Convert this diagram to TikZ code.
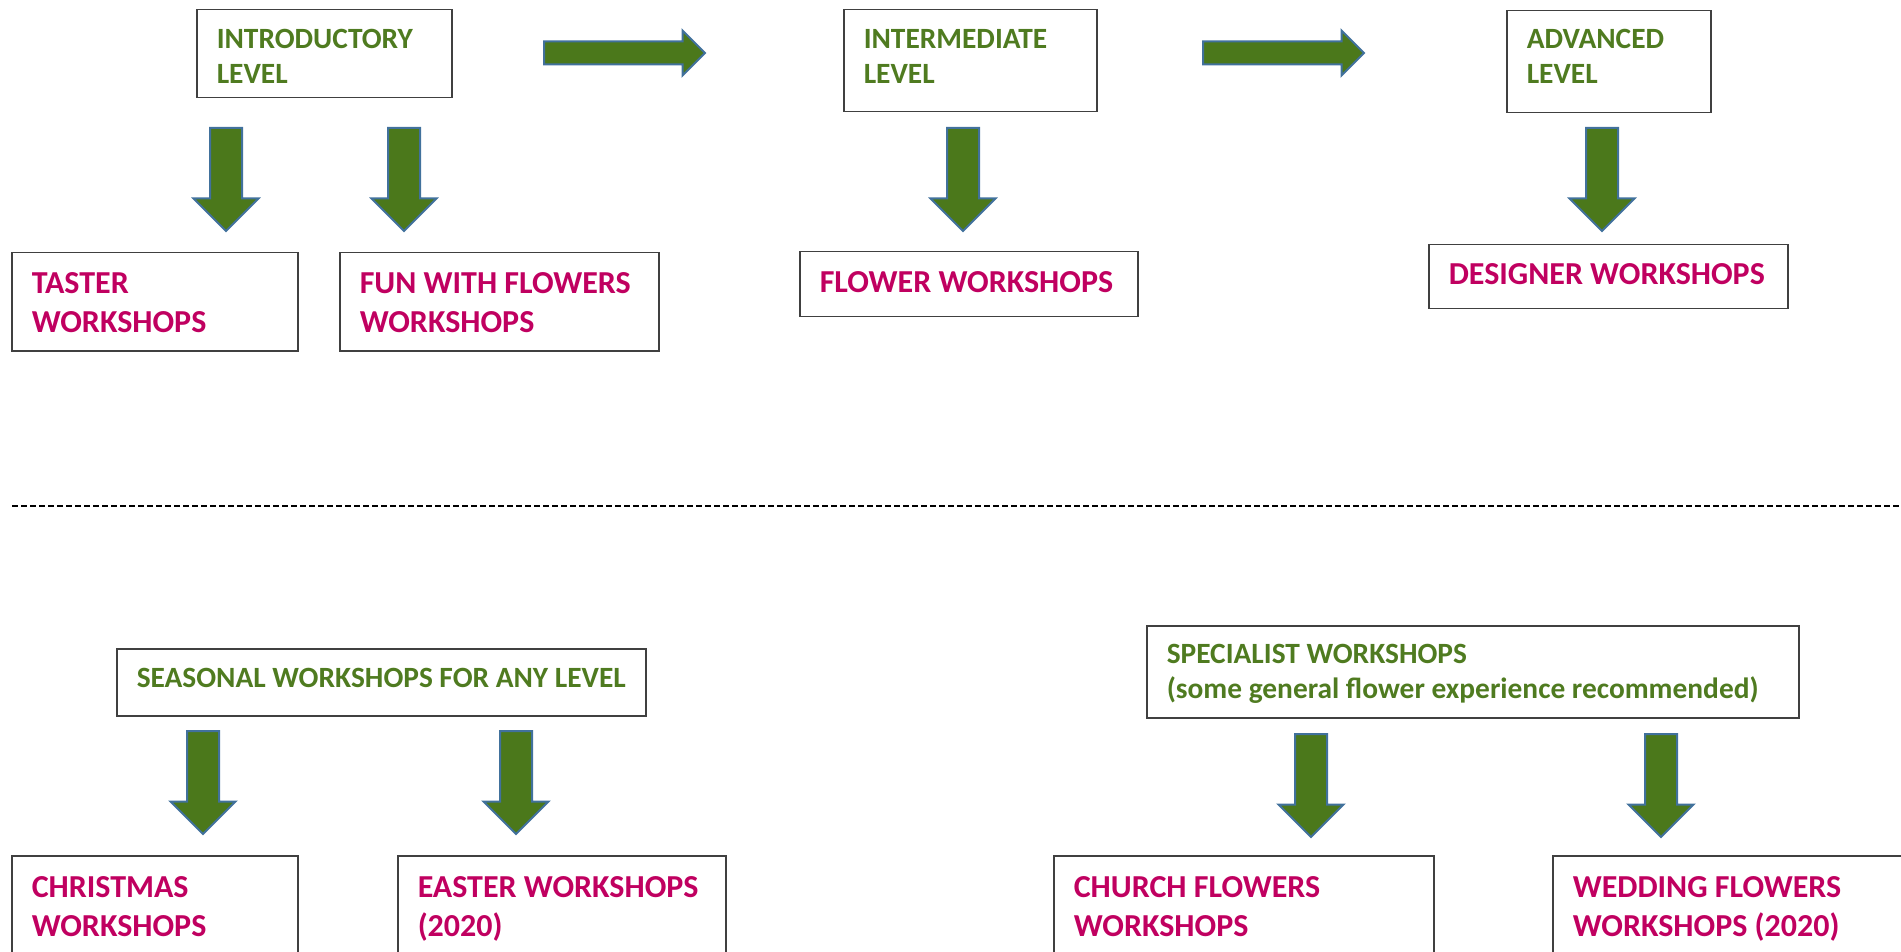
\documentclass[tikz,border=0pt]{standalone}
\usepackage{fontspec}
\setmainfont{Carlito}
\usetikzlibrary{shapes.arrows}
\definecolor{lvlgreen}{RGB}{79,123,32}
\definecolor{arrgreen}{RGB}{75,120,27}
\definecolor{arrblue}{RGB}{65,113,156}
\definecolor{wsmagenta}{RGB}{192,0,96}
\definecolor{boxgray}{RGB}{64,64,64}

\begin{document}
\begin{tikzpicture}[x=0.5pt,y=-0.5pt,
  box/.style={draw=boxgray,line width=0.75pt,anchor=north west,align=flush left,
    inner xsep=10pt,inner ysep=0pt},
  lvl/.style={box,text=lvlgreen,font=\bfseries\fontsize{14.7pt}{17.5pt}\selectfont},
  ws/.style={box,text=wsmagenta,font=\bfseries\fontsize{16pt}{19.5pt}\selectfont},
  arr/.style={single arrow,draw=arrblue,fill=arrgreen,line width=1pt,
    inner xsep=0pt,single arrow head indent=0pt,anchor=tail},
  downarr/.style={arr,minimum height=51.5pt,inner ysep=7.5pt,
    single arrow head extend=8.25pt,rotate=-90},
  rightarr/.style={arr,minimum height=80.5pt,inner ysep=5.25pt,
    single arrow head extend=5.5pt}]
\useasboundingbox (0,0) rectangle (1901,952);
\clip (0,0) rectangle (1901,952);

% levels
\node[lvl,text width=107.5pt,text height=19.5pt,text depth=24.5pt] (intro) at (196,9)
  {INTRODUCTORY\\LEVEL};
\node[lvl,text width=106.5pt,text height=19.5pt,text depth=31.5pt] (inter) at (843,9)
  {INTERMEDIATE\\LEVEL};
\node[lvl,text width=82pt,text height=19pt,text depth=32pt] (adv) at (1506,10)
  {ADVANCED\\LEVEL};
\node[rightarr] (next1) at (543,53) {};
\node[rightarr] (next2) at (1202,53) {};

% workshops for each level
\node[ws,text width=123pt,text height=20.5pt,text depth=28.5pt] (taster) at (11,252)
  {TASTER\\WORKSHOPS};
\node[ws,text width=139.5pt,text height=20.5pt,text depth=28.5pt] (fun) at (339,252)
  {FUN~WITH~FLOWERS\\WORKSHOPS};
\node[ws,text width=149pt,text height=20.5pt,text depth=12pt] (flower) at (799,251)
  {FLOWER~WORKSHOPS};
\node[ws,text width=159.5pt,text height=20pt,text depth=12pt] (designer) at (1428,244)
  {DESIGNER~WORKSHOPS};

\draw[black,line width=1pt,dash pattern=on 3pt off 1.5pt] (12,506) -- (1901,506);

% seasonal and specialist
\node[lvl,text width=244.5pt,text height=19.5pt,text depth=14pt] (seasonal) at (116,648)
  {SEASONAL~WORKSHOPS~FOR~ANY~LEVEL};
\node[lvl,text width=306pt,text height=19pt,text depth=27pt] (special) at (1146,625)
  {SPECIALIST~WORKSHOPS\\(some~general~flower~experience~recommended)};
\node[ws,text width=123pt,text height=21pt,text depth=60pt] (xmas) at (11,855)
  {CHRISTMAS\\WORKSHOPS};
\node[ws,text width=144pt,text height=21pt,text depth=60pt] (easter) at (397,855)
  {EASTER~WORKSHOPS\\(2020)};
\node[ws,text width=170pt,text height=21pt,text depth=60pt] (church) at (1053,855)
  {CHURCH~FLOWERS\\WORKSHOPS};
\node[ws,text width=184pt,text height=21pt,text depth=60pt] (wedding) at (1552,855)
  {WEDDING~FLOWERS\\WORKSHOPS~(2020)};

\foreach \x/\y [count=\i] in {226/127,404/127,963/127,1602/127,203/730,516/730,1311/733,1661/733}
  \node[downarr] (down\i) at (\x,\y) {};
\end{tikzpicture}
\end{document}
